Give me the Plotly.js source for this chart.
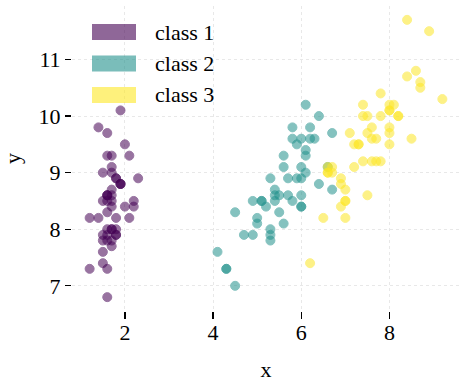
<!DOCTYPE html>
<html>
<head>
<meta charset="utf-8">
<script src="https://cdn.plot.ly/plotly-3.0.1.min.js"></script>
<style>html,body{margin:0;padding:0;background:#fff;}#chart{width:464px;height:382px;}</style>
</head>
<body>
<div id="chart"></div>
<script>
const classNames = ["class 1", "class 2", "class 3"];
const classColors = ["#440154", "#21918c", "#fde725"];

const x1 = [1.6,1.6,1.5,1.7,1.6,2.1,1.7,1.7,1.6,1.6,1.7,1.8,1.5,1.2,1.4,1.9,1.7,1.7,2.0,1.8,1.9,1.9,1.2,2.2,2.1,1.8,2.0,1.7,1.6,1.8,1.8,1.9,1.6,1.6,1.7,1.4,1.5,1.5,1.5,1.7,1.6,1.6,1.5,2.2,2.3,1.7,1.8,1.6,1.7,1.6];
const y1 = [8.6,7.9,7.9,7.7,8.6,9.3,8.0,8.4,7.3,8.0,9.1,8.2,7.8,7.3,9.8,10.1,9.3,8.6,9.5,8.9,8.8,8.8,8.2,8.4,8.2,8.0,8.4,8.7,8.6,7.9,7.9,8.8,9.3,9.7,8.0,8.2,9.0,8.5,7.4,8.5,8.5,6.8,7.6,8.5,8.9,7.8,8.9,7.8,9.0,8.3];

const x2 = [6.1,6.0,6.4,5.3,6.1,5.8,6.3,4.3,5.9,5.3,4.5,5.7,5.0,6.1,4.9,5.8,6.0,5.1,6.0,5.0,6.6,5.3,6.4,5.9,5.6,5.8,6.2,6.7,6.0,4.5,4.9,4.7,5.1,6.7,6.0,6.1,6.2,5.7,5.4,5.3,5.6,6.0,5.2,4.3,5.5,5.4,5.5,5.6,4.1,5.4];
const y2 = [10.2,9.6,10.0,7.8,9.3,8.5,9.6,7.3,9.5,7.9,7.0,8.9,8.2,9.0,8.5,9.8,8.6,8.5,8.4,8.1,9.1,8.9,8.8,8.9,9.3,9.6,9.6,9.7,8.9,8.3,7.9,7.9,8.5,8.7,8.4,9.4,9.8,8.6,8.6,8.0,8.1,9.1,8.4,7.3,8.3,8.7,8.6,9.1,7.6,8.5];

const x3 = [8.5,7.0,8.0,7.4,8.0,8.7,6.2,8.1,7.6,8.6,7.1,7.2,7.6,7.0,7.5,7.6,7.3,8.9,9.2,6.5,8.0,6.9,8.7,6.7,7.8,7.8,6.6,6.7,7.7,7.4,8.0,8.4,7.8,6.6,7.0,8.4,8.0,7.3,6.6,7.5,8.0,7.4,7.0,8.2,8.2,7.5,6.9,7.2,7.7,6.9];
const y3 = [9.6,8.5,10.1,9.2,9.5,10.6,7.4,10.2,9.2,10.8,9.7,9.1,9.8,8.2,8.6,9.6,9.5,11.5,10.3,8.2,10.1,8.4,10.5,9.0,10.0,10.4,9.0,9.1,9.2,10.2,10.2,11.7,9.2,9.1,8.7,10.7,9.7,9.5,9.0,10.0,9.8,10.0,8.5,10.0,10.0,9.7,8.8,9.5,9.6,8.9];

const xTicks = [2, 4, 6, 8];
const yTicks = [7, 8, 9, 10, 11];

const xs = [x1, x2, x3];
const ys = [y1, y2, y3];

const FONT = "Liberation Serif, Times New Roman, serif";

const traces = xs.map((xv, i) => ({
  type: "scatter",
  mode: "markers",
  x: xv,
  y: ys[i],
  name: classNames[i],
  showlegend: false,
  marker: {color: classColors[i], size: 9, opacity: 0.55, line: {color: classColors[i], width: 1}}
}));

// legend drawn as patches + text
const shapes = [];
const annotations = [];
classNames.forEach((nm, i) => {
  const top = 24 + i * 31.5;
  shapes.push({type: "rect", xref: "paper", yref: "paper",
    x0: (92 - 72) / 388, x1: (136 - 72) / 388,
    y0: 1 - (top + 16 - 6) / 305, y1: 1 - (top - 6) / 305,
    fillcolor: classColors[i], opacity: 0.6, line: {width: 0}, layer: "above"});
  annotations.push({xref: "paper", yref: "paper", x: (153 - 72) / 388, y: 1 - (top + 8 - 6) / 305,
    xanchor: "left", yanchor: "middle", showarrow: false, text: nm,
    font: {family: FONT, size: 22, color: "#000"}});
});

const layout = {
  width: 464, height: 382,
  margin: {l: 72, r: 4, t: 6, b: 71},
  paper_bgcolor: "#fff", plot_bgcolor: "#fff",
  font: {family: FONT, size: 22, color: "#000"},
  showlegend: false,
  xaxis: {
    range: [0.8, 9.6], tickvals: xTicks, ticktext: xTicks.map(String),
    showline: false, zeroline: false,
    showgrid: true, gridcolor: "#e2e2e2", griddash: "dot", gridwidth: 0.8,
    ticks: "outside", ticklen: 7, tickwidth: 1.2, tickcolor: "#000",
    ticklabelstandoff: -5,
    tickfont: {family: FONT, size: 22, color: "#000"},
    title: {text: "x", font: {family: FONT, size: 22, color: "#000"}},
    automargin: false
  },
  yaxis: {
    range: [6.555, 11.945], tickvals: yTicks, ticktext: yTicks.map(String),
    showline: false, zeroline: false,
    showgrid: true, gridcolor: "#e2e2e2", griddash: "dot", gridwidth: 0.8,
    ticks: "outside", ticklen: 6, tickwidth: 1.2, tickcolor: "#000",
    tickfont: {family: FONT, size: 22, color: "#000"},
    title: {text: "y", font: {family: FONT, size: 22, color: "#000"}},
    automargin: false
  },
  shapes: shapes,
  annotations: annotations
};

Plotly.newPlot("chart", traces, layout, {displayModeBar: false, staticPlot: true});
</script>
</body>
</html>
